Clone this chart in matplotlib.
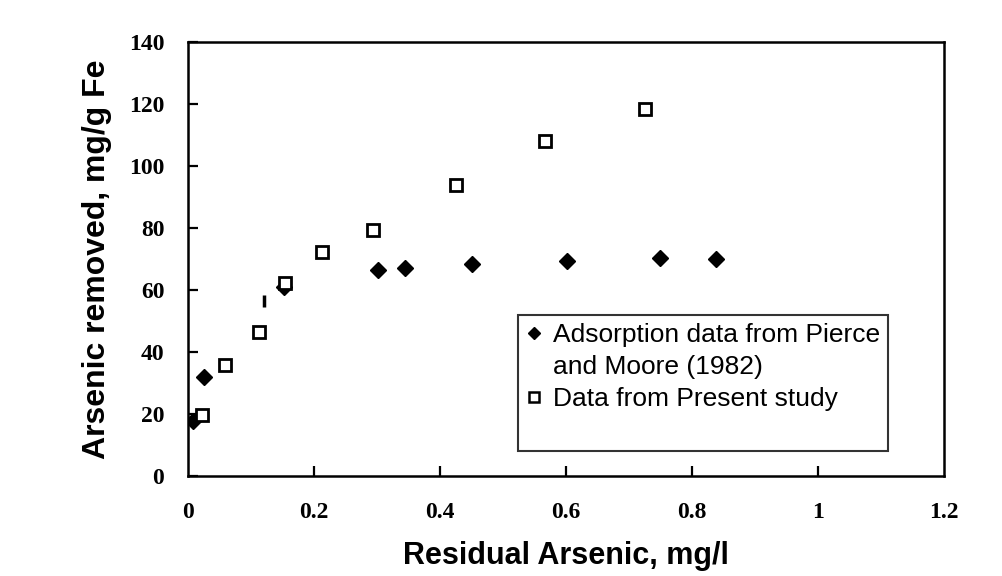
import matplotlib
matplotlib.use("Agg")
import matplotlib.pyplot as plt
from matplotlib.lines import Line2D

# Pierce and Moore (1982) adsorption data
pierce_x = [0.008, 0.025, 0.153, 0.301, 0.344, 0.451, 0.602, 0.750, 0.838]
pierce_y = [17.7, 31.8, 61.0, 66.5, 67.0, 68.5, 69.5, 70.2, 69.9]

# present study
present_x = [0.022, 0.059, 0.112, 0.154, 0.213, 0.294, 0.426, 0.566, 0.726]
present_y = [19.6, 35.9, 46.6, 62.3, 72.4, 79.5, 93.8, 108.0, 118.4]

# stray print mark in the original figure
stray_x = [0.121]
stray_y = [56.3]

x_ticks = [0, 0.2, 0.4, 0.6, 0.8, 1.0, 1.2]
x_tick_labels = ["0", "0.2", "0.4", "0.6", "0.8", "1", "1.2"]
y_ticks = [0, 20, 40, 60, 80, 100, 120, 140]

fig = plt.figure(figsize=(10.03, 5.76), dpi=100)
ax = fig.add_axes([0.1874, 0.1736, 0.7537, 0.7535])

ax.plot(pierce_x, pierce_y, linestyle="none", marker="D", markersize=8,
        color="black")
ax.plot(present_x, present_y, linestyle="none", marker="s", markersize=9,
        markerfacecolor="white", markeredgecolor="black", markeredgewidth=2)
ax.plot(stray_x, stray_y, linestyle="none", marker="|", markersize=8,
        markeredgewidth=2.5, color="black")

ax.set_xlim(0, 1.2)
ax.set_ylim(0, 140)
ax.set_xticks(x_ticks[1:-1])
ax.set_yticks(y_ticks)
ax.set_yticklabels([str(v) for v in y_ticks])

for s in ax.spines.values():
    s.set_linewidth(1.8)

ax.tick_params(axis="both", direction="in", length=7, width=1.6)
ax.tick_params(axis="x", pad=0)
ax.tick_params(axis="y", pad=17)
for lab in ax.get_yticklabels():
    lab.set_fontfamily("Liberation Serif")
    lab.set_fontweight("bold")
    lab.set_fontsize(17)

# x tick labels sit well below the axis, including 0 and 1.2
ax.set_xticklabels([])
for xv, txt in zip(x_ticks, x_tick_labels):
    ax.annotate(txt, xy=(xv, 0), xycoords=("data", "axes fraction"),
                xytext=(0, -19), textcoords="offset points",
                ha="center", va="top", fontsize=17,
                fontfamily="Liberation Serif", fontweight="bold")

ax.set_xlabel("Residual Arsenic, mg/l", fontsize=22, fontweight="bold",
              fontfamily="Liberation Sans", labelpad=47)
ax.set_ylabel("Arsenic removed, mg/g Fe", fontsize=23, fontweight="bold",
              fontfamily="Liberation Sans", labelpad=12)

handles = [
    Line2D([], [], linestyle="none", marker="D", markersize=6, color="black"),
    Line2D([], [], linestyle="none", marker="none"),
    Line2D([], [], linestyle="none", marker="s", markersize=7,
           markerfacecolor="white", markeredgecolor="black",
           markeredgewidth=1.8),
    Line2D([], [], linestyle="none", marker="none"),
]
labels = ["Adsorption data from Pierce", "and Moore (1982)",
          "Data from Present study", " "]
leg = ax.legend(handles, labels, loc="upper left",
                bbox_to_anchor=(0.437, 0.371), borderaxespad=0,
                frameon=True, fancybox=False, handlelength=0.6,
                handletextpad=0.4, labelspacing=0.3, borderpad=0.3,
                prop={"family": "Liberation Sans", "size": 19})
leg.get_frame().set_edgecolor("black")
leg.get_frame().set_linewidth(1.5)

fig.savefig("out.png", dpi=100, facecolor="white")
